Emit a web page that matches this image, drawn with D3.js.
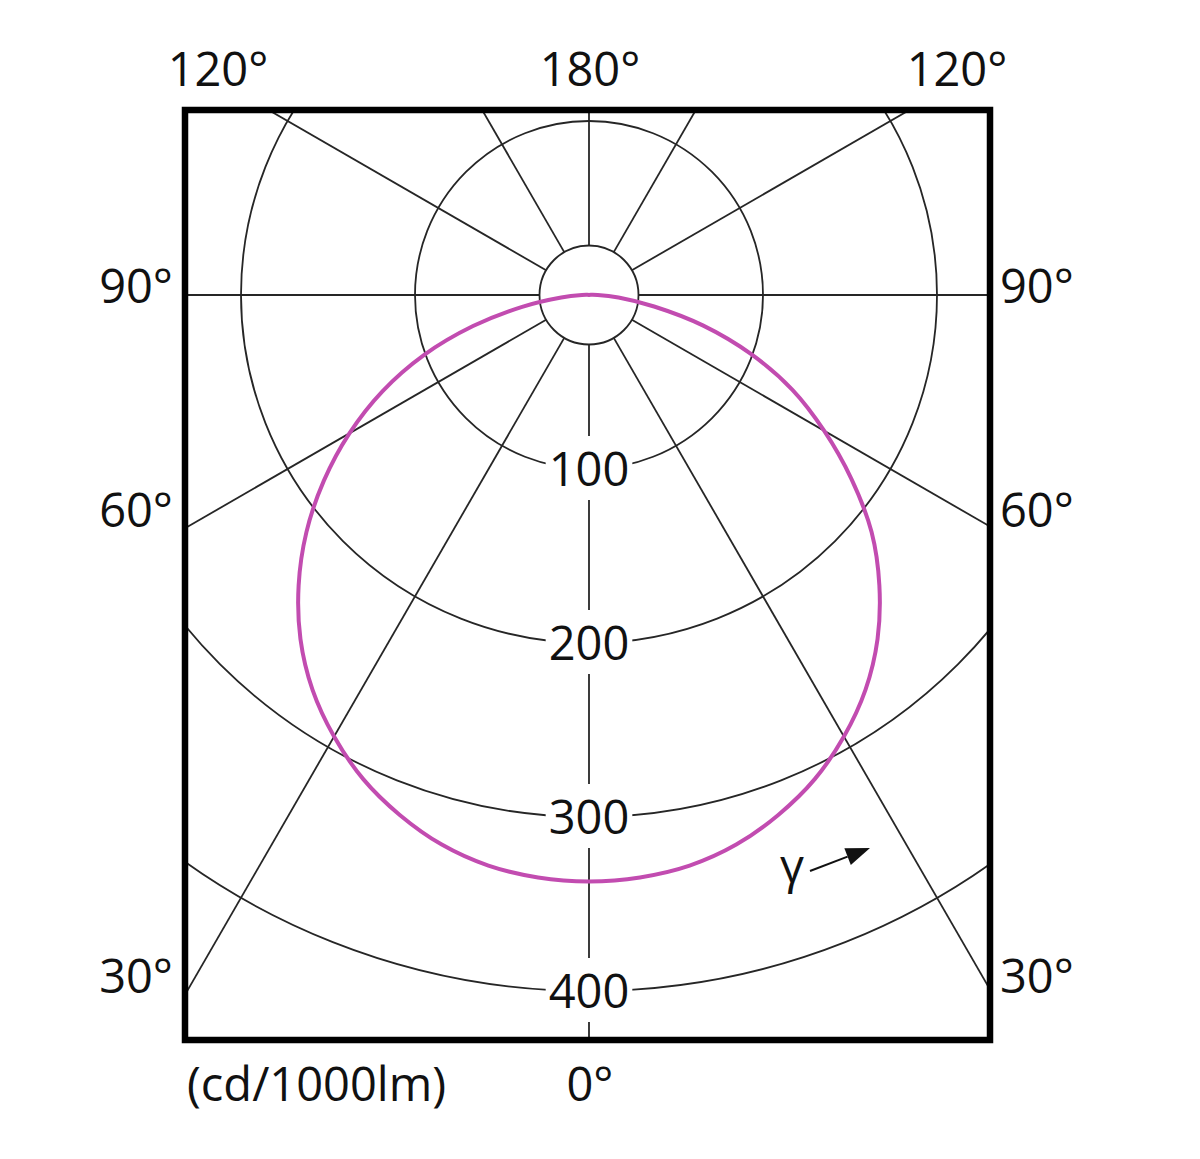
<!DOCTYPE html>
<html>
<head>
<meta charset="utf-8">
<script src="https://cdn.jsdelivr.net/npm/d3@7"></script>
<style>
  html, body { margin: 0; padding: 0; background: #fff; }
  text { font-family: "Open Sans", "DejaVu Sans", sans-serif; fill: #111; }
</style>
</head>
<body>
<div id="polar"></div>
<script>
// luminous intensity, cd/1000lm
var gamma = [0, 5, 10, 15, 20, 25, 30, 35, 40, 45, 50, 55, 60, 65, 70, 75, 80, 85, 90,
             95, 100, 105, 110, 115, 120, 125, 130, 135, 140, 145, 150, 155, 160, 165, 170, 175, 180];
var intensityC0 = [337, 336, 333, 327, 318, 307, 293, 277, 258, 236, 212, 186, 159, 131, 101, 69, 39, 16, 4,
                   1, 0, 0, 0, 0, 0, 0, 0, 0, 0, 0, 0, 0, 0, 0, 0, 0, 0];
var intensityC90 = [337, 336, 333, 327, 318, 307, 293, 277, 258, 236, 212, 184, 156, 129, 99, 68, 38, 17, 5,
                    1, 0, 0, 0, 0, 0, 0, 0, 0, 0, 0, 0, 0, 0, 0, 0, 0, 0];

var ringValues = [100, 200, 300, 400];
var spokeAngles = [0, 30, 60, 90, 120, 150, 180, 210, 240, 270, 300, 330];
var topLabels = ["120°", "180°", "120°"];
var sideLabels = ["90°", "60°", "30°"];
var unitLabel = "(cd/1000lm)";
var bottomLabel = "0°";
var gammaLabel = "γ";

var svgWidth = 1200, svgHeight = 1159;
var box = { left: 185, top: 110, right: 990, bottom: 1040 };
var cx = 589, cy = 295;
var hubRadius = 49.5;
var fontSize = 47;

var svg = d3.select("#polar").append("svg")
    .attr("width", svgWidth)
    .attr("height", svgHeight);

svg.append("rect")
    .attr("width", svgWidth)
    .attr("height", svgHeight)
    .attr("fill", "#fff");

var r = d3.scaleLinear().domain([0, 400]).range([0, 696]);

svg.append("clipPath")
    .attr("id", "boxclip")
    .append("rect")
    .attr("x", box.left)
    .attr("y", box.top)
    .attr("width", box.right - box.left)
    .attr("height", box.bottom - box.top);

var plot = svg.append("g")
    .attr("clip-path", "url(#boxclip)")
    .append("g")
    .attr("transform", "translate(" + cx + "," + cy + ")");

// rings
plot.selectAll("circle.ring")
    .data(ringValues)
    .enter()
    .append("circle")
    .attr("class", "ring")
    .attr("r", function(d) { return r(d); })
    .attr("fill", "none")
    .attr("stroke", "#262626")
    .attr("stroke-width", 1.8);

plot.append("circle")
    .attr("r", hubRadius)
    .attr("fill", "none")
    .attr("stroke", "#262626")
    .attr("stroke-width", 1.8);

// spokes, gamma 0 pointing down
plot.selectAll("line.spoke")
    .data(spokeAngles)
    .enter()
    .append("line")
    .attr("class", "spoke")
    .attr("x1", function(d) { return hubRadius * Math.sin(d * Math.PI / 180); })
    .attr("y1", function(d) { return hubRadius * Math.cos(d * Math.PI / 180); })
    .attr("x2", function(d) { return 2000 * Math.sin(d * Math.PI / 180); })
    .attr("y2", function(d) { return 2000 * Math.cos(d * Math.PI / 180); })
    .attr("stroke", "#262626")
    .attr("stroke-width", 1.8);

// ring labels with white backing
var ringLabel = plot.selectAll("g.ringlabel")
    .data(ringValues)
    .enter()
    .append("g")
    .attr("class", "ringlabel");

var ringBg = ringLabel.append("rect").attr("fill", "#fff");

var ringText = ringLabel.append("text")
    .attr("x", 0)
    .attr("y", function(d) { return r(d) + 17; })
    .attr("text-anchor", "middle")
    .attr("font-size", fontSize)
    .text(function(d) { return d; });

ringText.each(function(d, i) {
    var bb = this.getBBox();
    d3.select(ringBg.nodes()[i])
        .attr("x", bb.x - 3)
        .attr("y", bb.y)
        .attr("width", bb.width + 6)
        .attr("height", bb.height);
});

// intensity curve: C0 plane on the left, C90 plane on the right
var points = [];
gamma.forEach(function(g, i) {
    points.push([Math.PI + g * Math.PI / 180, r(intensityC0[i])]);
});
for (var i = gamma.length - 2; i > 0; i--) {
    points.push([Math.PI - gamma[i] * Math.PI / 180, r(intensityC90[i])]);
}

var curve = d3.lineRadial()
    .angle(function(d) { return d[0]; })
    .radius(function(d) { return d[1]; })
    .curve(d3.curveCatmullRomClosed.alpha(0.5));

plot.append("path")
    .datum(points)
    .attr("d", curve)
    .attr("fill", "none")
    .attr("stroke", "#c24cb0")
    .attr("stroke-width", 4)
    .attr("stroke-linejoin", "round");

// frame
svg.append("rect")
    .attr("x", box.left)
    .attr("y", box.top)
    .attr("width", box.right - box.left)
    .attr("height", box.bottom - box.top)
    .attr("fill", "none")
    .attr("stroke", "#000")
    .attr("stroke-width", 6.5);

// angle labels
var topX = [218, 590, 957];
svg.selectAll("text.top")
    .data(topLabels)
    .enter()
    .append("text")
    .attr("class", "top")
    .attr("x", function(d, i) { return topX[i]; })
    .attr("y", 86)
    .attr("text-anchor", "middle")
    .attr("font-size", fontSize)
    .text(function(d) { return d; });

var sideY = [303, 527, 993];
svg.selectAll("text.left")
    .data(sideLabels)
    .enter()
    .append("text")
    .attr("class", "left")
    .attr("x", 173)
    .attr("y", function(d, i) { return sideY[i]; })
    .attr("text-anchor", "end")
    .attr("font-size", fontSize)
    .text(function(d) { return d; });

svg.selectAll("text.right")
    .data(sideLabels)
    .enter()
    .append("text")
    .attr("class", "right")
    .attr("x", 1000)
    .attr("y", function(d, i) { return sideY[i]; })
    .attr("text-anchor", "start")
    .attr("font-size", fontSize)
    .text(function(d) { return d; });

svg.append("text")
    .attr("x", 187)
    .attr("y", 1101)
    .attr("font-size", fontSize)
    .text(unitLabel);

svg.append("text")
    .attr("x", 590)
    .attr("y", 1101)
    .attr("text-anchor", "middle")
    .attr("font-size", fontSize)
    .text(bottomLabel);

// gamma direction arrow
svg.append("text")
    .attr("x", 792)
    .attr("y", 883)
    .attr("text-anchor", "middle")
    .attr("font-size", fontSize)
    .text(gammaLabel);

var a0 = [810, 871], tip = [870, 848];
var len = Math.hypot(tip[0] - a0[0], tip[1] - a0[1]);
var ux = (tip[0] - a0[0]) / len, uy = (tip[1] - a0[1]) / len;
var headLen = 24, headHalf = 9;
var base = [tip[0] - headLen * ux, tip[1] - headLen * uy];

svg.append("line")
    .attr("x1", a0[0]).attr("y1", a0[1])
    .attr("x2", base[0]).attr("y2", base[1])
    .attr("stroke", "#111")
    .attr("stroke-width", 2);

svg.append("path")
    .attr("d", "M" + tip[0] + "," + tip[1] +
        "L" + (base[0] - headHalf * uy) + "," + (base[1] + headHalf * ux) +
        "L" + (base[0] + headHalf * uy) + "," + (base[1] - headHalf * ux) + "Z")
    .attr("fill", "#111");
</script>
</body>
</html>
